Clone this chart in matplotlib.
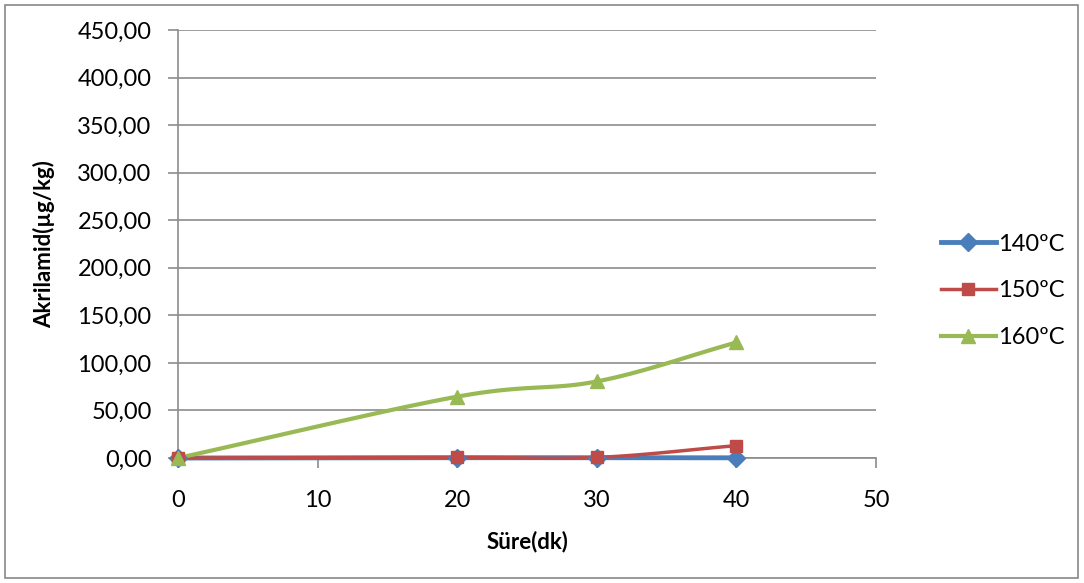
import numpy as np
import matplotlib.pyplot as plt
from matplotlib.patches import Rectangle

plt.rcParams['font.family'] = ['Lato', 'DejaVu Sans']

# Sampling times (minutes) and acrylamide content (ug/kg)
sure = [0, 20, 30, 40]
seri_140 = [0.0, 0.3, 0.3, 0.2]
seri_150 = [0.0, 0.6, 0.6, 13.0]
seri_160 = [0.0, 64.5, 80.5, 121.5]
etiketler = ['140ºC', '150ºC', '160ºC']


def smooth(x, y, n=40):
    # Catmull-Rom style curve through the points (like Excel smoothed lines)
    x = np.asarray(x, float)
    y = np.asarray(y, float)
    px = np.concatenate([[2 * x[0] - x[1]], x, [2 * x[-1] - x[-2]]])
    py = np.concatenate([[2 * y[0] - y[1]], y, [2 * y[-1] - y[-2]]])
    xs, ys = [], []
    t = np.linspace(0, 1, n)
    for i in range(1, len(px) - 2):
        for p, out in ((px, xs), (py, ys)):
            p0, p1, p2, p3 = p[i - 1], p[i], p[i + 1], p[i + 2]
            out.extend(0.5 * ((2 * p1) + (-p0 + p2) * t
                              + (2 * p0 - 5 * p1 + 4 * p2 - p3) * t ** 2
                              + (-p0 + 3 * p1 - 3 * p2 + p3) * t ** 3))
    return np.array(xs), np.array(ys)


fig = plt.figure(figsize=(10.84, 5.83), dpi=100)
fig.patches.append(Rectangle((5 / 1084, 5 / 583), 1073 / 1084, 573 / 583,
                             transform=fig.transFigure, fill=False,
                             edgecolor='#888888', linewidth=1.2))
ax = fig.add_axes([178 / 1084, 1 - 458 / 583, 698 / 1084, 428 / 583])

stiller = [
    dict(color='#4a7ebb', lw=3.5, marker='D', ms=9),
    dict(color='#be4b48', lw=2.5, marker='s', ms=8),
    dict(color='#98b954', lw=3.0, marker='^', ms=10),
]
for y, lab, st in zip([seri_140, seri_150, seri_160], etiketler, stiller):
    sx, sy = smooth(sure, y)
    ax.plot(sx, sy, color=st['color'], lw=st['lw'], solid_capstyle='round',
            clip_on=False, zorder=3)
    ax.plot(sure, y, linestyle='none', marker=st['marker'], ms=st['ms'],
            color=st['color'], clip_on=False, zorder=4)
    ax.plot([], [], color=st['color'], lw=st['lw'], marker=st['marker'],
            ms=st['ms'], label=lab)

ax.set_xlim(0, 50)
ax.set_ylim(0, 450)
ax.set_xticks(range(0, 51, 10))
ax.set_yticks(range(0, 451, 50))
ax.set_yticklabels([f'{v:.2f}'.replace('.', ',') for v in range(0, 451, 50)])
ax.grid(axis='y', color='#8c8c8c', lw=1.2)
ax.set_axisbelow(True)
for s in ['top', 'right']:
    ax.spines[s].set_visible(False)
for s in ['left', 'bottom']:
    ax.spines[s].set_color('#8c8c8c')
    ax.spines[s].set_linewidth(1.2)
ax.tick_params(axis='both', colors='#8c8c8c', labelcolor='black',
               labelsize=17, length=7, width=1.2, direction='out')
ax.tick_params(axis='y', pad=12)
ax.tick_params(axis='x', pad=16)
ax.set_xlabel('Süre(dk)', fontsize=16, fontweight='bold', labelpad=14)
ax.set_ylabel('Akrilamid(µg/kg)', fontsize=16, fontweight='bold', labelpad=16)

fig.legend(loc='center left', bbox_to_anchor=(920 / 1084, 1 - 291 / 583),
           frameon=False, fontsize=17, labelspacing=1.1, handlelength=2.3,
           handletextpad=0.1)

fig.savefig('out.png', dpi=100)
